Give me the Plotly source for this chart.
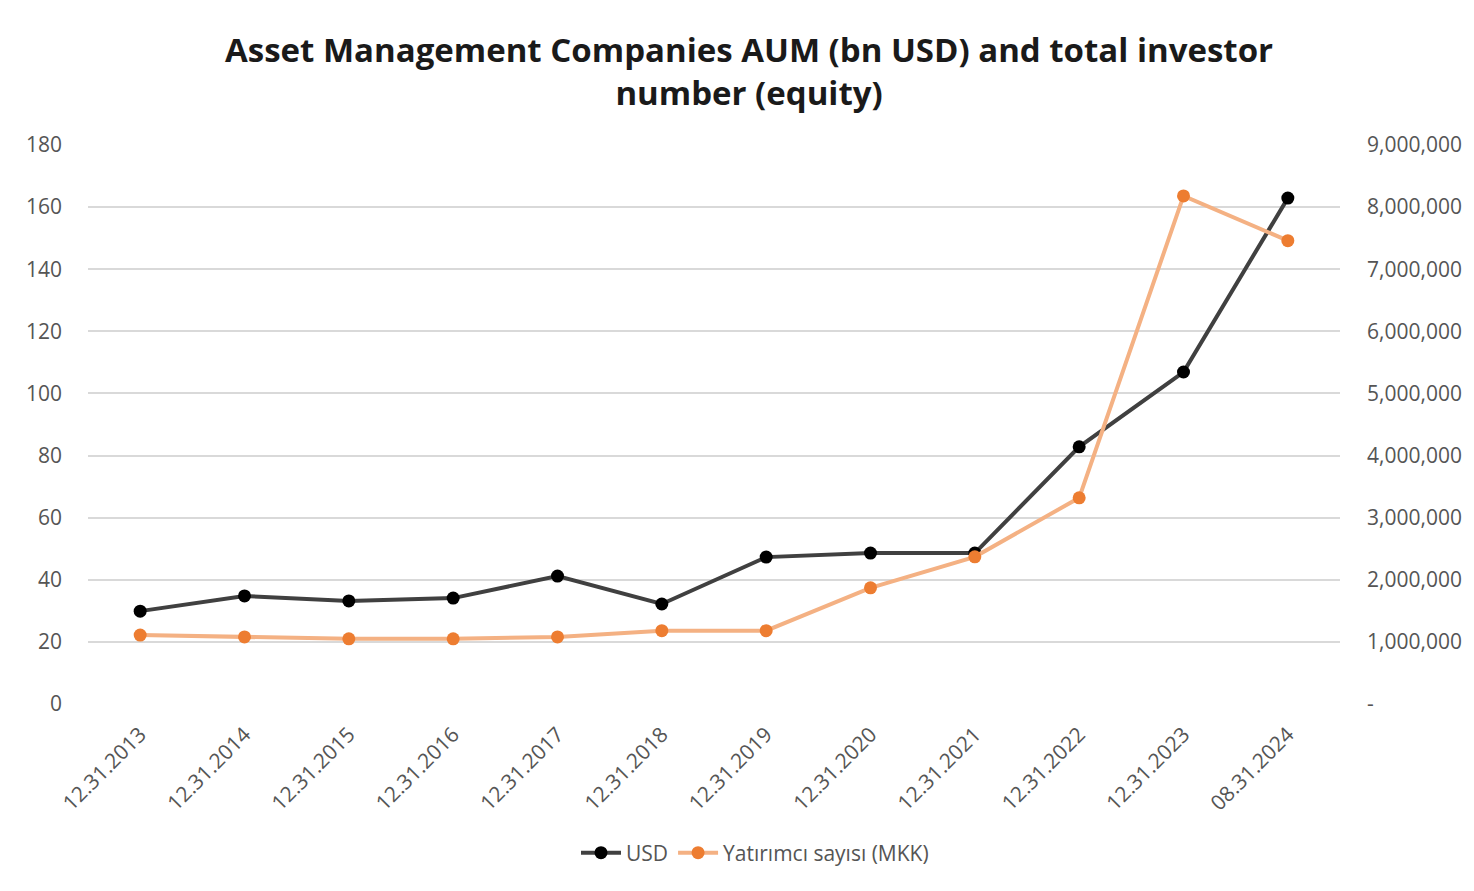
import plotly.graph_objects as go

categories = ["12.31.2013", "12.31.2014", "12.31.2015", "12.31.2016", "12.31.2017",
              "12.31.2018", "12.31.2019", "12.31.2020", "12.31.2021", "12.31.2022",
              "12.31.2023", "08.31.2024"]
usd_aum = [29.9, 34.8, 33.2, 34.1, 41.2, 32.2, 47.3, 48.6, 48.6, 82.8, 106.9, 162.9]
investors = [1110000, 1080000, 1050000, 1050000, 1080000, 1180000, 1180000,
             1870000, 2370000, 3320000, 8180000, 7460000]
left_ticks = [0, 20, 40, 60, 80, 100, 120, 140, 160, 180]
right_tickvals = [0, 1000000, 2000000, 3000000, 4000000, 5000000, 6000000, 7000000, 8000000, 9000000]
right_ticktext = ["-", "1,000,000", "2,000,000", "3,000,000", "4,000,000", "5,000,000",
                  "6,000,000", "7,000,000", "8,000,000", "9,000,000"]
title_text = "<b>Asset Management Companies AUM (bn USD) and total investor<br>number (equity)</b>"

# page has an 8px body margin, so the figure is drawn 8px in from the top-left
OFF = 8
W, H = 1474 - OFF, 891 - OFF
L, R, T, B = 88 - OFF, 1342 - OFF, 145 - OFF, 704 - OFF
pw, ph = R - L, B - T

font_family = "Open Sans, Liberation Sans, sans-serif"
tick_color = "#555555"

fig = go.Figure()
fig.add_trace(go.Scatter(
    x=categories, y=usd_aum, name="USD", mode="lines+markers",
    line=dict(color="#404040", width=4),
    marker=dict(color="#000000", size=13),
    yaxis="y"))
fig.add_trace(go.Scatter(
    x=categories, y=investors, name="Yatırımcı sayısı (MKK)", mode="lines+markers",
    line=dict(color="#F4B183", width=4),
    marker=dict(color="#ED7D31", size=13),
    yaxis="y2"))

fig.update_layout(
    width=W, height=H,
    margin=dict(l=L, r=W - R, t=T, b=H - B, pad=0),
    paper_bgcolor="white", plot_bgcolor="white",
    font=dict(family=font_family, color=tick_color, size=21),
    xaxis=dict(
        type="category", range=[-0.5, len(categories) - 0.5],
        tickangle=-45, showgrid=False, showline=False,
        ticks="outside", ticklen=9, tickcolor="rgba(0,0,0,0)",
        tickfont=dict(size=21, color=tick_color)),
    yaxis=dict(
        range=[0, 180], tickvals=left_ticks, showgrid=True, gridcolor="#d9d9d9",
        gridwidth=1.5, zeroline=False, showline=False, ticks="",
        ticklabelstandoff=25, tickfont=dict(size=21, color=tick_color)),
    yaxis2=dict(
        range=[0, 9000000], overlaying="y", side="right",
        tickvals=right_tickvals, ticktext=right_ticktext,
        showgrid=False, zeroline=False, showline=False, ticks="",
        ticklabelstandoff=26, tickfont=dict(size=21, color=tick_color)),
    legend=dict(
        orientation="h", x=(755 - OFF) / W, xanchor="center", xref="container",
        y=1 - (853 - OFF) / H, yanchor="middle", yref="container",
        font=dict(size=21, color=tick_color), itemwidth=40, traceorder="normal"),
    showlegend=True,
    annotations=[dict(
        text=title_text, showarrow=False,
        xref="paper", yref="paper",
        x=(750 - OFF - L) / pw, y=(B - (70.5 - OFF)) / ph,
        xanchor="center", yanchor="middle", align="center",
        font=dict(family=font_family, size=33, color="#1a1a1a"))],
)

fig.write_html("out.html")
